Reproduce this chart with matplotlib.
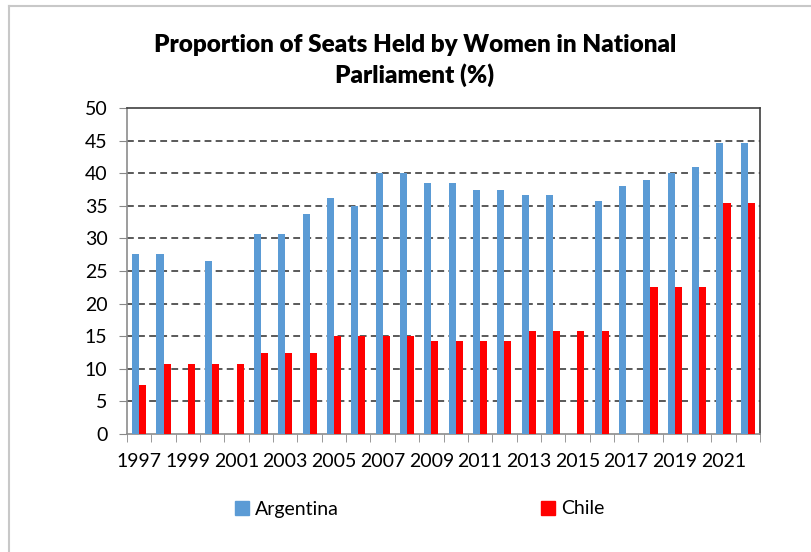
import numpy as np
import matplotlib
matplotlib.use("Agg")
import matplotlib.pyplot as plt
from matplotlib.lines import Line2D
from matplotlib.patches import Patch

plt.rcParams['font.family'] = ['Lato', 'DejaVu Sans']

years = list(range(1997, 2023))
argentina = [27.6, 27.6, np.nan, 26.5, np.nan, 30.7, 30.7, 33.7, 36.2, 35.0,
             40.0, 40.0, 38.5, 38.5, 37.4, 37.4, 36.6, 36.6, np.nan, 35.8,
             38.1, 38.9, 40.0, 40.9, 44.7, 44.7]
chile = [7.5, 10.8, 10.8, 10.8, 10.8, 12.5, 12.5, 12.5, 15.0, 15.0,
         15.0, 15.0, 14.2, 14.2, 14.2, 14.2, 15.8, 15.8, 15.8, 15.8,
         np.nan, 22.6, 22.6, 22.6, 35.5, 35.5]
year_labels = [str(y) for y in years[::2]]
y_ticks = list(range(0, 51, 5))

W, H = 811, 552
fig = plt.figure(figsize=(W / 100, H / 100), dpi=100)

# outer chart-area frame
fig.add_artist(Line2D([9 / W, 1.01], [1 - 6 / H, 1 - 6 / H], transform=fig.transFigure,
                      color='#c8c8c8', lw=1.5))
fig.add_artist(Line2D([9 / W, 9 / W], [1 - 6 / H, -0.01], transform=fig.transFigure,
                      color='#c8c8c8', lw=1.5))

left, right, top, bottom = 127, 760, 108, 434
ax = fig.add_axes([left / W, 1 - bottom / H, (right - left) / W, (bottom - top) / H])

x = np.arange(len(years))
bw = 0.29
ax.bar(x - bw / 2, argentina, width=bw, color='#5B9BD5', zorder=3, label='Argentina')
ax.bar(x + bw / 2, chile, width=bw, color='#FF0000', zorder=3, label='Chile')

ax.set_xlim(-0.5, len(years) - 0.5)
ax.set_ylim(0, 50)
ax.set_yticks(y_ticks)
ax.set_yticklabels([str(v) for v in y_ticks], fontsize=14)
ax.tick_params(axis='y', length=6, color='#888888', pad=8)

ax.set_xticks(x[::2])
ax.set_xticklabels(year_labels, fontsize=14)
ax.tick_params(axis='x', which='major', length=0, pad=14)
ax.set_xticks(np.arange(len(years) + 1) - 0.5, minor=True)
ax.tick_params(axis='x', which='minor', length=6, color='#888888')

for yv in y_ticks[1:-1]:
    ax.axhline(yv, color='#595959', lw=1.4, ls=(0, (3.5, 2.2)), zorder=1)

for side in ('top', 'right'):
    ax.spines[side].set_color('#404040')
    ax.spines[side].set_linewidth(1.2)
for side in ('left', 'bottom'):
    ax.spines[side].set_color('#8c8c8c')
    ax.spines[side].set_linewidth(1.2)

fig.text(415 / W, 1 - 45 / H, 'Proportion of Seats Held by Women in National',
         ha='center', va='center', fontsize=17.5, fontweight='heavy')
fig.text(415 / W, 1 - 75 / H, 'Parliament (%)',
         ha='center', va='center', fontsize=17.5, fontweight='heavy')

handles = [Patch(color='#5B9BD5'), Patch(color='#FF0000')]
fig.legend([handles[0]], ['Argentina'], loc='center left',
           bbox_to_anchor=(217 / W, 1 - 509 / H), frameon=False, fontsize=14,
           handlelength=0.75, handleheight=0.75, handletextpad=0.3)
fig.legend([handles[1]], ['Chile'], loc='center left',
           bbox_to_anchor=(523 / W, 1 - 509 / H), frameon=False, fontsize=14,
           handlelength=0.75, handleheight=0.75, handletextpad=0.3)

fig.savefig('out.png', dpi=100)
